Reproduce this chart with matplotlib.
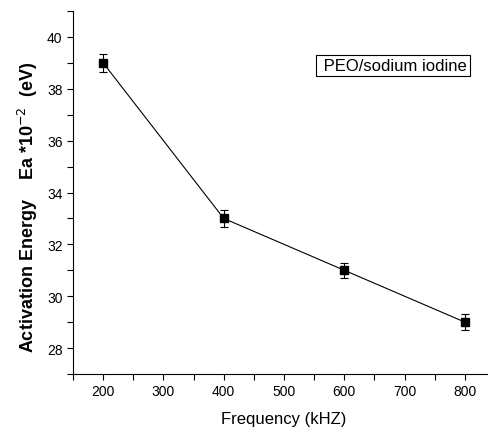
import matplotlib
matplotlib.use("Agg")
import matplotlib.pyplot as plt
from matplotlib.ticker import MultipleLocator

plt.rcParams['font.family'] = ['Liberation Sans', 'DejaVu Sans']

freq = [200, 400, 600, 800]
energy = [39.0, 33.0, 31.0, 29.0]
err = [0.35, 0.33, 0.3, 0.3]

fig = plt.figure(figsize=(4.89, 4.35), dpi=100)
ax = fig.add_axes([73/489, 1 - 375/435, 1 - 73/489, (375 - 12)/435])

ax.errorbar(freq, energy, yerr=err, color='black', marker='s', markersize=6,
            linewidth=0.8, elinewidth=0.8, capsize=3, capthick=0.8)

ax.set_xlim(150, 840)
ax.set_ylim(27, 41)
ax.xaxis.set_major_locator(MultipleLocator(100))
ax.xaxis.set_minor_locator(MultipleLocator(50))
ax.yaxis.set_major_locator(MultipleLocator(2))
ax.yaxis.set_minor_locator(MultipleLocator(1))
ax.tick_params(which='both', direction='out', length=4, width=0.8, labelsize=10)
ax.spines['top'].set_visible(False)
ax.spines['right'].set_visible(False)

# axis titles placed by hand to match the reference
fig.text(284/489, 1 - 420/435, 'Frequency (kHZ)', fontsize=12,
         ha='center', va='center')
fig.text(28/489, 1 - 207/435, r'Activation Energy    Ea *10$^{-2}$  (eV)',
         fontsize=13, fontweight='bold', rotation=90, ha='center', va='center')

ax.text(467/489 * 489 / 416 - 73/416, (375 - 66.5)/363, ' PEO/sodium iodine',
        transform=ax.transAxes, ha='right', va='center', fontsize=12,
        bbox=dict(boxstyle='square,pad=0.2', facecolor='white',
                  edgecolor='black', linewidth=0.8))

plt.savefig('out.png', dpi=100)
